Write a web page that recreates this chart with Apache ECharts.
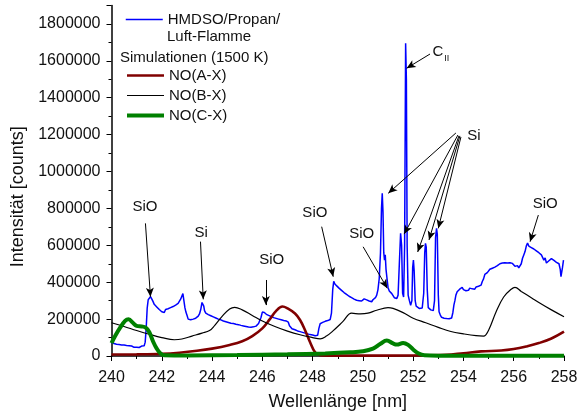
<!DOCTYPE html>
<html>
<head>
<meta charset="utf-8">
<script src="https://cdn.jsdelivr.net/npm/echarts@6/dist/echarts.min.js"></script>
<style>
  html, body { margin: 0; padding: 0; background: #fff; }
  #chart { width: 584px; height: 417px; }
</style>
</head>
<body>
<div id="chart"></div>
<script>
// Measured emission spectrum of the HMDSO/propane/air flame: [wavelength nm, counts]
const hmdsoSpectrum = [
  [240.00, 72000], [240.05, 64000], [240.10, 68000], [240.15, 60000], [240.20, 64000],
  [240.25, 58000], [240.30, 62000], [240.35, 56000], [240.40, 60000], [240.45, 55000],
  [240.50, 59000], [240.55, 53000], [240.60, 57000], [240.65, 52000], [240.70, 56000],
  [240.75, 50000], [240.80, 54000], [240.85, 51000], [240.90, 47000], [240.95, 52000],
  [241.00, 48000], [241.05, 53000], [241.10, 46000], [241.15, 50000], [241.20, 54000],
  [241.25, 49000], [241.30, 56000], [241.34, 75000], [241.38, 150000], [241.42, 260000],
  [241.46, 305000], [241.50, 300000], [241.55, 322000], [241.60, 310000], [241.65, 296000],
  [241.70, 280000], [241.75, 285000], [241.80, 266000], [241.85, 270000], [241.90, 252000],
  [241.95, 258000], [242.00, 240000], [242.05, 248000], [242.10, 236000], [242.15, 252000],
  [242.20, 244000], [242.25, 256000], [242.30, 248000], [242.35, 262000], [242.40, 254000],
  [242.45, 268000], [242.50, 262000], [242.55, 276000], [242.60, 270000], [242.65, 285000],
  [242.70, 290000], [242.75, 308000], [242.80, 300000], [242.84, 338000], [242.88, 300000],
  [242.92, 262000], [242.96, 238000], [243.00, 222000], [243.05, 200000], [243.10, 190000],
  [243.15, 196000], [243.20, 188000], [243.25, 200000], [243.30, 195000], [243.35, 205000],
  [243.40, 212000], [243.45, 216000], [243.50, 228000], [243.55, 252000], [243.60, 290000],
  [243.63, 298000], [243.67, 270000], [243.70, 246000], [243.75, 232000], [243.80, 236000],
  [243.85, 224000], [243.90, 230000], [243.95, 218000], [244.00, 224000], [244.05, 212000],
  [244.10, 218000], [244.15, 206000], [244.20, 212000], [244.25, 200000], [244.30, 206000],
  [244.35, 196000], [244.40, 200000], [244.45, 190000], [244.50, 196000], [244.55, 186000],
  [244.60, 190000], [244.65, 182000], [244.70, 186000], [244.75, 178000], [244.80, 184000],
  [244.85, 176000], [244.90, 180000], [244.95, 172000], [245.00, 177000], [245.05, 170000],
  [245.10, 174000], [245.15, 166000], [245.20, 170000], [245.25, 163000], [245.30, 168000],
  [245.35, 160000], [245.40, 165000], [245.45, 157000], [245.50, 162000], [245.55, 156000],
  [245.60, 162000], [245.65, 158000], [245.70, 166000], [245.75, 162000], [245.80, 170000],
  [245.85, 176000], [245.90, 185000], [245.95, 210000], [246.00, 238000], [246.04, 246000],
  [246.08, 236000], [246.12, 240000], [246.16, 226000], [246.20, 232000], [246.25, 220000],
  [246.30, 226000], [246.35, 214000], [246.40, 220000], [246.45, 208000], [246.50, 214000],
  [246.55, 204000], [246.60, 210000], [246.65, 200000], [246.70, 206000], [246.75, 196000],
  [246.80, 202000], [246.85, 192000], [246.90, 198000], [246.95, 190000], [247.00, 200000],
  [247.03, 184000], [247.08, 164000], [247.12, 158000], [247.18, 148000], [247.25, 152000],
  [247.30, 142000], [247.35, 146000], [247.40, 136000], [247.45, 140000], [247.50, 132000],
  [247.55, 136000], [247.60, 128000], [247.65, 132000], [247.70, 124000], [247.75, 128000],
  [247.80, 120000], [247.85, 126000], [247.90, 116000], [247.95, 122000], [248.00, 114000],
  [248.05, 118000], [248.10, 110000], [248.15, 116000], [248.20, 112000], [248.25, 150000],
  [248.30, 175000], [248.35, 170000], [248.40, 182000], [248.45, 176000], [248.50, 188000],
  [248.55, 182000], [248.60, 192000], [248.65, 188000], [248.70, 198000], [248.75, 232000],
  [248.80, 360000], [248.84, 405000], [248.88, 392000], [248.92, 396000], [248.96, 380000],
  [249.00, 384000], [249.05, 368000], [249.10, 372000], [249.15, 356000], [249.20, 360000],
  [249.25, 344000], [249.30, 348000], [249.35, 334000], [249.40, 338000], [249.45, 324000],
  [249.50, 328000], [249.55, 316000], [249.60, 320000], [249.65, 308000], [249.70, 312000],
  [249.75, 302000], [249.80, 308000], [249.85, 300000], [249.90, 306000], [249.95, 298000],
  [250.00, 304000], [250.05, 310000], [250.10, 318000], [250.15, 304000], [250.20, 310000],
  [250.25, 298000], [250.30, 304000], [250.35, 294000], [250.40, 305000], [250.45, 300000],
  [250.50, 316000], [250.55, 330000], [250.60, 360000], [250.65, 420000], [250.70, 560000],
  [250.74, 800000], [250.77, 882000], [250.80, 780000], [250.83, 560000], [250.86, 520000],
  [250.89, 548000], [250.92, 470000], [250.96, 420000], [251.00, 372000], [251.05, 352000],
  [251.10, 360000], [251.15, 338000], [251.20, 330000], [251.25, 316000], [251.30, 308000],
  [251.35, 312000], [251.40, 330000], [251.45, 500000], [251.50, 665000], [251.54, 600000],
  [251.58, 340000], [251.62, 320000], [251.66, 600000], [251.70, 1695000], [251.73, 1500000],
  [251.76, 600000], [251.80, 330000], [251.85, 300000], [251.90, 275000], [251.95, 300000],
  [251.98, 480000], [252.01, 520000], [252.04, 460000], [252.08, 300000], [252.12, 270000],
  [252.18, 262000], [252.24, 258000], [252.30, 256000], [252.36, 260000], [252.42, 340000],
  [252.46, 560000], [252.49, 611000], [252.52, 590000], [252.56, 360000], [252.60, 262000],
  [252.65, 255000], [252.70, 250000], [252.75, 248000], [252.80, 246000], [252.85, 300000],
  [252.89, 640000], [252.93, 692000], [252.96, 660000], [253.00, 330000], [253.03, 240000],
  [253.08, 222000], [253.13, 210000], [253.18, 214000], [253.23, 205000], [253.28, 212000],
  [253.33, 203000], [253.38, 210000], [253.43, 202000], [253.48, 212000], [253.53, 206000],
  [253.58, 236000], [253.62, 276000], [253.66, 300000], [253.70, 330000], [253.75, 348000],
  [253.80, 340000], [253.85, 362000], [253.90, 356000], [253.95, 372000], [254.00, 360000],
  [254.05, 366000], [254.10, 354000], [254.15, 364000], [254.20, 356000], [254.25, 368000],
  [254.30, 358000], [254.35, 364000], [254.40, 372000], [254.45, 362000], [254.50, 374000],
  [254.55, 366000], [254.60, 378000], [254.65, 372000], [254.70, 384000], [254.75, 404000],
  [254.80, 418000], [254.85, 442000], [254.90, 436000], [254.95, 452000], [255.00, 462000],
  [255.05, 470000], [255.10, 460000], [255.15, 476000], [255.20, 468000], [255.25, 482000],
  [255.30, 474000], [255.35, 490000], [255.40, 484000], [255.45, 500000], [255.50, 494000],
  [255.55, 504000], [255.60, 496000], [255.65, 506000], [255.70, 498000], [255.75, 504000],
  [255.80, 496000], [255.85, 506000], [255.90, 498000], [255.95, 502000], [256.00, 492000],
  [256.05, 486000], [256.10, 480000], [256.15, 490000], [256.20, 478000], [256.25, 472000],
  [256.30, 500000], [256.35, 530000], [256.40, 548000], [256.45, 566000], [256.50, 596000],
  [256.55, 612000], [256.60, 596000], [256.65, 602000], [256.70, 588000], [256.75, 594000],
  [256.80, 580000], [256.85, 586000], [256.90, 570000], [256.95, 576000], [257.00, 560000],
  [257.05, 566000], [257.10, 548000], [257.15, 540000], [257.20, 520000], [257.25, 532000],
  [257.30, 504000], [257.35, 500000], [257.40, 516000], [257.45, 510000], [257.50, 528000],
  [257.55, 534000], [257.60, 518000], [257.65, 522000], [257.70, 508000], [257.75, 512000],
  [257.80, 500000], [257.85, 470000], [257.88, 430000], [257.91, 420000], [257.94, 480000],
  [257.98, 520000]
];

// Simulated NO band systems at 1500 K: [wavelength nm, counts]
const noAX = [
  [240.0, 8000], [241.0, 9000], [242.0, 12000], [242.7, 18000], [243.4, 28000],
  [244.0, 40000], [244.7, 60000], [245.2, 80000], [245.6, 108000], [246.0, 150000],
  [246.3, 200000], [246.55, 245000], [246.8, 268000], [247.0, 258000], [247.3, 230000],
  [247.5, 195000], [247.7, 140000], [247.9, 75000], [248.1, 20000], [248.3, 4000],
  [248.6, 2000], [250.0, 2000], [252.0, 3000], [253.3, 6000], [254.0, 15000],
  [254.7, 25000], [255.5, 30000], [256.0, 38000], [256.5, 52000], [257.0, 70000],
  [257.5, 95000], [258.0, 132000]
];

const noBX = [
  [240.0, 180000], [240.5, 160000], [241.0, 138000], [241.5, 118000], [242.0, 100000],
  [242.5, 88000], [242.8, 92000], [243.2, 108000], [243.6, 124000], [243.9, 138000],
  [244.1, 165000], [244.4, 215000], [244.7, 255000], [244.9, 264000], [245.2, 250000],
  [245.6, 220000], [246.0, 190000], [246.5, 160000], [247.0, 135000], [247.5, 115000],
  [248.0, 100000], [248.3, 93000], [248.55, 108000], [248.8, 135000], [249.2, 186000],
  [249.55, 232000], [249.9, 228000], [250.2, 232000], [250.55, 248000], [251.0, 262000],
  [251.2, 258000], [251.6, 235000], [252.0, 205000], [252.5, 180000], [253.0, 155000],
  [253.5, 133000], [254.0, 120000], [254.5, 110000], [254.8, 108000], [255.0, 140000],
  [255.3, 240000], [255.6, 320000], [255.9, 362000], [256.05, 372000], [256.3, 350000],
  [256.7, 316000], [257.0, 290000], [257.5, 250000], [258.0, 213000]
];

const noCX = [
  [240.0, 70000], [240.15, 110000], [240.35, 155000], [240.55, 192000], [240.68, 199000],
  [240.85, 180000], [241.0, 163000], [241.2, 160000], [241.35, 155000], [241.5, 130000],
  [241.65, 80000], [241.8, 40000], [241.95, 14000], [242.1, 4000], [243.0, 3000],
  [245.0, 5000], [247.0, 9000], [248.5, 14000], [249.5, 20000], [250.0, 26000],
  [250.4, 40000], [250.7, 66000], [250.95, 84000], [251.2, 68000], [251.35, 62000],
  [251.6, 70000], [251.8, 60000], [252.0, 35000], [252.2, 15000], [252.45, 4000],
  [253.0, 2000], [258.0, 2000]
];

// Line assignments written next to the peaks: text and its anchor [nm, counts]
const peakLabels = [
  ['SiO', 241.33, 808000],
  ['Si', 243.57, 668000],
  ['SiO', 246.37, 520000],
  ['SiO', 248.09, 775000],
  ['SiO', 249.95, 661000],
  ['C', 252.98, 1648000],
  ['Si', 254.42, 1193000],
  ['SiO', 257.25, 824000]
];
// Subscript of the carbon ion line
const ionSubscript = ['II', 253.34, 1610000];

// Arrows from a label to its peak: [from nm, from counts, to nm, to counts]
const peakArrows = [
  [241.35, 719000, 241.55, 321000],
  [243.54, 620000, 243.65, 307000],
  [246.14, 412000, 246.14, 276000],
  [248.36, 701000, 248.82, 430000],
  [250.01, 592000, 250.97, 367000],
  [252.67, 1637000, 251.74, 1560000],
  [253.70, 1209000, 251.01, 882000],
  [253.78, 1198000, 251.64, 661000],
  [253.82, 1193000, 252.18, 564000],
  [253.86, 1193000, 252.63, 629000],
  [253.90, 1187000, 253.00, 692000],
  [256.98, 764000, 256.65, 620000]
];

const seriesNames = ['HMDSO/Propan/Luft-Flamme', 'NO(A-X)', 'NO(B-X)', 'NO(C-X)'];
const seriesColors = ['#0000ff', '#800000', '#000000', '#008000'];
const seriesWidths = [1.5, 2.6, 1.2, 4];

const FONT = '"Liberation Sans", Arial, sans-serif';
const TEXT = '#111';
const chart = echarts.init(document.getElementById('chart'), null, { renderer: 'canvas' });

const labelData = peakLabels.map(([text, x, y]) => ({ name: text, value: [x, y] }));
labelData.push({
  name: ionSubscript[0],
  value: [ionSubscript[1], ionSubscript[2]],
  label: { fontSize: 9 }
});

// Legend entries carry the line width of their curve
const legendItem = (i) => ({
  name: seriesNames[i],
  lineStyle: { color: seriesColors[i], width: seriesWidths[i] }
});

chart.setOption({
  animation: false,
  backgroundColor: '#fff',
  grid: { left: 111.5, right: 20, top: 5.5, bottom: 61, containLabel: false, outerBoundsMode: 'none' },
  xAxis: {
    type: 'value',
    min: 240, max: 258, interval: 2,
    name: 'Wellenlänge [nm]',
    nameLocation: 'middle',
    nameGap: 37,
    nameTextStyle: { fontFamily: FONT, fontSize: 18, color: TEXT },
    axisLine: { lineStyle: { color: '#000', width: 1.5 } },
    axisTick: { show: true, inside: false, length: 5, lineStyle: { color: '#000', width: 1 } },
    minorTick: { show: true, splitNumber: 2, length: 3, lineStyle: { color: '#000', width: 1 } },
    axisLabel: { fontFamily: FONT, fontSize: 16, color: TEXT, margin: 14 },
    splitLine: { show: false }
  },
  yAxis: {
    type: 'value',
    min: 0, max: 1900000, interval: 200000,
    name: 'Intensität [counts]',
    nameLocation: 'middle',
    nameGap: 77,
    nameTextStyle: { fontFamily: FONT, fontSize: 18, color: TEXT, padding: [0, 32, 0, 0] },
    axisLine: { show: true, lineStyle: { color: '#000', width: 1.5 } },
    axisTick: { show: true, inside: false, length: 5, lineStyle: { color: '#000', width: 1 } },
    minorTick: { show: true, splitNumber: 2, length: 3, lineStyle: { color: '#000', width: 1 } },
    axisLabel: {
      fontFamily: FONT, fontSize: 16, color: TEXT, margin: 11, showMaxLabel: false,
      formatter: (v) => String(v)
    },
    splitLine: { show: false }
  },
  legend: [
    {
      data: [legendItem(0)],
      left: 120, top: 7,
      itemWidth: 37, itemHeight: 14, itemGap: 5,
      itemStyle: { opacity: 0 },
      formatter: () => 'HMDSO/Propan/',
      textStyle: { fontFamily: FONT, fontSize: 15, color: TEXT },
      selectedMode: false
    },
    {
      data: [legendItem(1), legendItem(2), legendItem(3)],
      orient: 'vertical',
      left: 120, top: 63,
      itemWidth: 37, itemHeight: 14, itemGap: 5,
      itemStyle: { opacity: 0 },
      textStyle: { fontFamily: FONT, fontSize: 15, color: TEXT, lineHeight: 15 },
      selectedMode: false
    }
  ],
  graphic: [
    {
      type: 'text', left: 167, top: 29,
      style: { text: 'Luft-Flamme', font: '15px ' + FONT, fill: TEXT }
    },
    {
      type: 'text', left: 120, top: 50,
      style: { text: 'Simulationen (1500 K)', font: '15px ' + FONT, fill: TEXT }
    }
  ],
  series: [
    {
      name: seriesNames[0], type: 'line', data: hmdsoSpectrum,
      symbol: 'none', lineStyle: { color: seriesColors[0], width: seriesWidths[0] },
      itemStyle: { color: seriesColors[0] }, z: 2
    },
    {
      name: seriesNames[1], type: 'line', data: noAX, smooth: 0.4,
      symbol: 'none', lineStyle: { color: seriesColors[1], width: seriesWidths[1] },
      itemStyle: { color: seriesColors[1] }, z: 3
    },
    {
      name: seriesNames[2], type: 'line', data: noBX, smooth: 0.4,
      symbol: 'none', lineStyle: { color: seriesColors[2], width: seriesWidths[2] },
      itemStyle: { color: seriesColors[2] }, z: 3
    },
    {
      name: seriesNames[3], type: 'line', data: noCX, smooth: 0.4,
      symbol: 'none', lineStyle: { color: seriesColors[3], width: seriesWidths[3] },
      itemStyle: { color: seriesColors[3] }, z: 4
    },
    {
      name: 'Zuordnung', type: 'scatter', data: labelData,
      symbolSize: 1, itemStyle: { color: 'rgba(0,0,0,0)', opacity: 1 }, silent: true, z: 5,
      emphasis: { disabled: true },
      label: {
        show: true, position: [0.5, 0.5], align: 'center', verticalAlign: 'middle',
        formatter: '{b}', fontFamily: FONT, fontSize: 15, color: TEXT,
        textBorderWidth: 0, opacity: 1
      },
      markLine: {
        silent: true,
        symbol: ['none', 'arrow'],
        symbolSize: [6, 9],
        label: { show: false },
        lineStyle: { color: '#000', width: 1, type: 'solid', opacity: 1 },
        emphasis: { disabled: true },
        data: peakArrows.map(([x1, y1, x2, y2]) => [{ coord: [x1, y1] }, { coord: [x2, y2] }])
      }
    }
  ]
});
</script>
</body>
</html>
